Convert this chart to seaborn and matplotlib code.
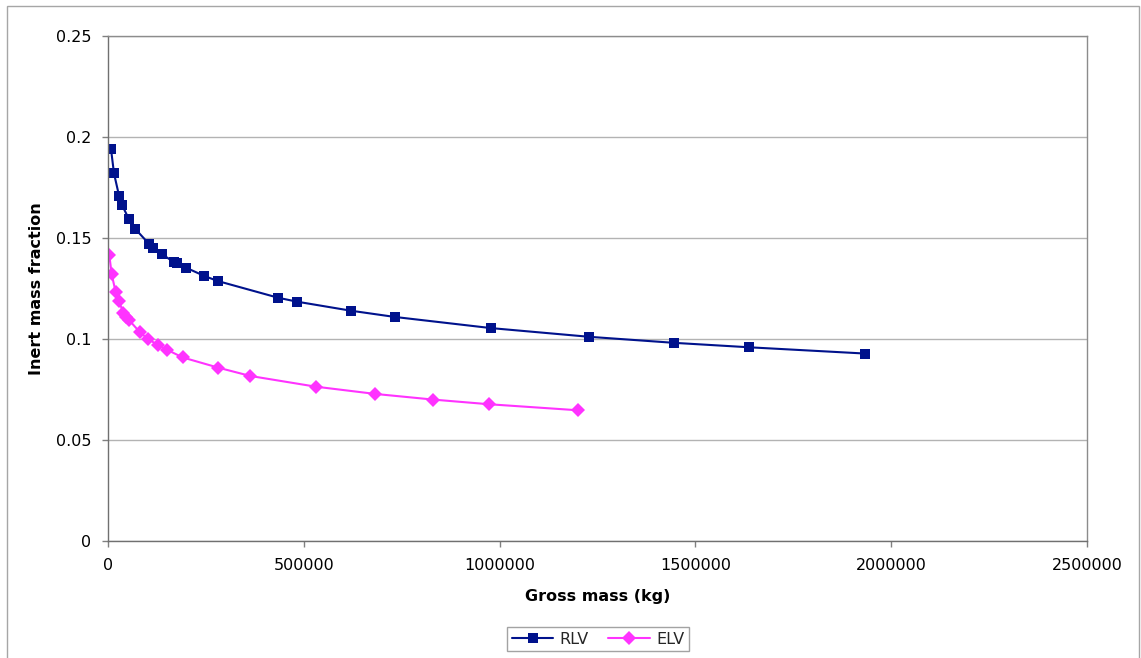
import numpy as np
import pandas as pd
import matplotlib
matplotlib.use("Agg")
import matplotlib.pyplot as plt
from matplotlib.patches import Rectangle
import seaborn as sns

# Reusable launch vehicle (RLV) series
rlv_gross_mass = [7700, 15300, 28100, 35800, 53600, 69700, 105500, 115700, 137100,
                  168600, 177000, 199200, 246000, 280200, 435000, 482000, 620600,
                  733000, 978000, 1228000, 1445600, 1637000, 1933000]
rlv_inert_fraction = [0.194, 0.182, 0.171, 0.1663, 0.1593, 0.1545, 0.1469, 0.1449,
                      0.1421, 0.138, 0.1375, 0.1353, 0.1312, 0.1287, 0.1204, 0.1185,
                      0.1140, 0.1109, 0.1054, 0.1011, 0.0981, 0.0959, 0.0928]

# Expendable launch vehicle (ELV) series
elv_gross_mass = [3300, 9450, 19700, 27300, 39100, 46000, 53600, 81700, 102900,
                  128500, 151500, 190300, 281700, 363400, 530500, 682700, 830800,
                  973100, 1201100]
elv_inert_fraction = [0.1416, 0.132, 0.1231, 0.119, 0.113, 0.111, 0.1094, 0.1033,
                      0.0999, 0.0969, 0.0946, 0.0909, 0.0858, 0.0817, 0.0764, 0.0728,
                      0.0700, 0.0677, 0.0647]

y_ticks = [0, 0.05, 0.1, 0.15, 0.2, 0.25]
y_tick_labels = ["0", "0.05", "0.1", "0.15", "0.2", "0.25"]
x_ticks = [0, 500000, 1000000, 1500000, 2000000, 2500000]
x_tick_labels = ["0", "500000", "1000000", "1500000", "2000000", "2500000"]

df = pd.concat([
    pd.DataFrame({"gross": rlv_gross_mass, "inert": rlv_inert_fraction, "vehicle": "RLV"}),
    pd.DataFrame({"gross": elv_gross_mass, "inert": elv_inert_fraction, "vehicle": "ELV"}),
], ignore_index=True)

sns.set_theme(style="white")
plt.rcParams["font.family"] = ["DejaVu Sans"]

W, H = 1141, 658
fig = plt.figure(figsize=(W / 100, H / 100), dpi=100)
ax = fig.add_axes([108 / W, 1 - 541 / H, (1087 - 108) / W, (541 - 36) / H])

# outer chart frame
fig.patches.append(Rectangle((7 / W, -0.02), (1139 - 7) / W, 1 - 6 / H + 0.02,
                             transform=fig.transFigure, fill=False,
                             edgecolor="#A6A6A6", linewidth=1.0))

palette = {"RLV": "#00128C", "ELV": "#FF33FF"}
sq_size, dm_size, lw = 7.8, 7.2, 1.5
sns.lineplot(data=df, x="gross", y="inert", hue="vehicle", style="vehicle",
             palette=palette, markers={"RLV": "s", "ELV": "D"}, dashes=False,
             sort=False, estimator=None, ax=ax, linewidth=lw,
             markeredgewidth=0, legend=False)
for line in ax.lines:
    if line.get_marker() == "s":
        line.set_markersize(sq_size)
    else:
        line.set_markersize(dm_size)

ax.set_xlim(0, 2500000)
ax.set_ylim(0, 0.25)
ax.set_xticks(x_ticks)
ax.set_xticklabels(x_tick_labels)
ax.set_yticks(y_ticks)
ax.set_yticklabels(y_tick_labels)
ax.tick_params(axis="both", which="major", length=4, width=1, color="#808080",
               labelsize=11.5, labelcolor="black", pad=8, direction="out")
ax.tick_params(axis="x", bottom=True)
ax.tick_params(axis="y", left=True)
ax.yaxis.grid(True, color="#B3B3B3", linewidth=1.0)
ax.xaxis.grid(False)
ax.set_axisbelow(True)
for side, sp in ax.spines.items():
    sp.set_visible(True)
    sp.set_color("#8C8C8C")
    sp.set_linewidth(1.0)
ax.spines["left"].set_color("#707070")
ax.spines["bottom"].set_color("#707070")

ax.set_xlabel("Gross mass (kg)", fontsize=11.5, fontweight="bold", color="black")
ax.set_ylabel("Inert mass fraction", fontsize=11.5, fontweight="bold", color="black")
ax.xaxis.set_label_coords(0.5, (541 - 596) / (541 - 36))
ax.xaxis.label.set_va("center")
ax.yaxis.set_label_coords((37 - 108) / (1087 - 108), 0.5)
ax.yaxis.label.set_va("center")

handles = [
    plt.Line2D([], [], color=palette["RLV"], marker="s", markersize=sq_size,
               markeredgewidth=0, linewidth=lw, label="RLV"),
    plt.Line2D([], [], color=palette["ELV"], marker="D", markersize=dm_size,
               markeredgewidth=0, linewidth=lw, label="ELV"),
]
leg = fig.legend(handles=handles, loc="center", bbox_to_anchor=(598 / W, 1 - 639 / H),
                 ncol=2, fontsize=11.5, frameon=True, fancybox=False,
                 edgecolor="#8C8C8C", borderpad=0.3, handlelength=2.6,
                 columnspacing=1.2, handletextpad=0.4, borderaxespad=0)
leg.get_frame().set_linewidth(1.0)

fig.savefig("out.png", dpi=100)
